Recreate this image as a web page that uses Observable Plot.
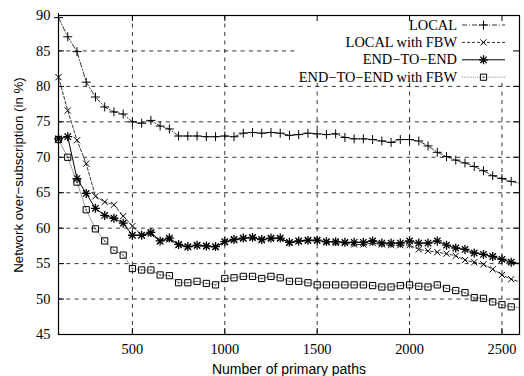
<!DOCTYPE html>
<html><head><meta charset="utf-8">
<script src="https://cdn.jsdelivr.net/npm/d3@7"></script>
<script src="https://cdn.jsdelivr.net/npm/@observablehq/plot@0.6"></script>
<style>body{margin:0;background:#fff}#chart svg{display:block}</style>
</head><body><div id="chart"></div>
<script>
// ---- data ----
const paths = [100,150,200,250,300,350,400,450,500,550,
  600,650,700,750,800,850,900,950,1000,1050,
  1100,1150,1200,1250,1300,1350,1400,1450,1500,1550,
  1600,1650,1700,1750,1800,1850,1900,1950,2000,2050,
  2100,2150,2200,2250,2300,2350,2400,2450,2500,2550,
  2600];
const local = [89.7,87.0,84.9,80.6,78.5,77.1,76.4,76.1,75.0,74.8,
  75.2,74.4,74.0,73.0,73.0,73.0,72.9,72.9,73.0,72.9,
  73.4,73.5,73.4,73.5,73.4,73.1,73.2,73.4,73.3,73.2,
  73.3,72.8,72.6,72.6,72.5,72.3,72.1,72.5,72.5,72.3,
  71.6,70.7,70.1,69.6,69.2,68.7,68.1,67.4,67.0,66.6,
  66.3];
const localFbw = [81.3,76.6,72.4,69.1,64.5,63.7,63.3,61.7,60.3,59.0,
  59.2,58.1,58.4,57.6,57.3,57.5,57.4,57.3,58.0,58.3,
  58.5,58.6,58.3,58.5,58.5,57.9,58.1,58.2,58.2,58.0,
  57.9,57.9,57.7,57.7,57.9,57.7,57.6,57.6,57.6,57.0,
  56.8,56.6,56.4,56.1,55.5,55.2,54.9,54.2,53.4,52.8,
  52.4];
const endToEnd = [72.6,72.9,67.0,64.9,62.8,61.8,61.4,60.7,59.0,59.0,
  59.4,58.2,58.6,57.7,57.4,57.6,57.5,57.4,58.1,58.4,
  58.6,58.7,58.4,58.6,58.6,58.0,58.2,58.3,58.3,58.1,
  58.1,58.0,58.0,58.0,58.2,57.9,57.9,57.9,58.2,57.9,
  57.9,58.2,57.6,57.2,57.0,56.5,56.3,56.0,55.6,55.2,
  55.0];
const endToEndFbw = [72.5,70.0,66.5,62.6,59.9,58.2,56.9,56.2,54.3,54.1,
  54.1,53.4,53.3,52.3,52.3,52.5,52.2,52.0,52.9,53.0,
  53.2,53.2,52.9,53.2,53.0,52.5,52.5,52.3,52.0,52.0,
  52.0,52.0,52.0,52.0,51.9,51.7,51.7,51.9,52.0,51.8,
  51.7,52.0,51.5,51.2,50.9,50.2,50.1,49.6,49.2,48.9,
  48.8];
const seriesNames = ["LOCAL", "LOCAL with FBW", "END\u2212TO\u2212END", "END\u2212TO\u2212END with FBW"];
const xTicks = [500, 1000, 1500, 2000, 2500];
const yTicks = [45, 50, 55, 60, 65, 70, 75, 80, 85, 90];
const xLabel = "Number of primary paths";
const yLabel = "Network over\u2212subscription (in %)";

// ---- styles ----
const W = 524, H = 376;
const mL = 58, mR = 5, mT = 15, mB = 42;
const innerW = W - mL - mR, innerH = H - mT - mB;
const serif = "'Liberation Serif', 'Times New Roman', serif";
const sans = "'Liberation Sans', Arial, sans-serif";
const seriesStyles = [
  {dash: "5,2,1,2", stroke: "#000", width: 0.8, symbols: ["plus"], r: 3, sw: 1},
  {dash: "3,2", stroke: "#000", width: 0.8, symbols: ["times"], r: 2.9, sw: 1},
  {dash: null, stroke: "#000", width: 1, symbols: ["plus", "times"], r: 3, sw: 1.3},
  {dash: "1,1.2", stroke: "#777", width: 0.9, symbols: ["square"], r: 3.5, sw: 1, centerDot: true}
];
const allSeries = [local, localFbw, endToEnd, endToEndFbw];
const rows = [];
allSeries.forEach((vals, i) => vals.forEach((v, j) => rows.push({series: seriesNames[i], x: paths[j], y: v})));

const d3sym = {plus: d3.symbolPlus, times: d3.symbolTimes, square: d3.symbolSquare};

function legendMark(index, scales, values, dims) {
  const g = d3.create("svg:g");
  const right = dims.width - dims.marginRight;
  const top = dims.marginTop;
  g.append("rect").attr("x", right - 222).attr("y", top + 1)
    .attr("width", 221).attr("height", 67).attr("fill", "#fff");
  seriesNames.forEach((name, i) => {
    const st = seriesStyles[i];
    const cy = top + 10 + 17.4 * i;
    g.append("text").attr("x", right - 62).attr("y", cy).attr("dy", "0.32em")
      .attr("text-anchor", "end").attr("font-family", serif).attr("font-size", 14.4)
      .attr("fill", "#000").text(name);
    g.append("line").attr("x1", right - 57).attr("x2", right - 14)
      .attr("y1", cy).attr("y2", cy).attr("stroke", st.stroke)
      .attr("stroke-width", st.width).attr("stroke-dasharray", st.dash);
    st.symbols.forEach(s => {
      g.append("path").attr("transform", `translate(${right - 35.5},${cy})`)
        .attr("d", d3.symbol(d3sym[s], Math.PI * st.r * st.r)())
        .attr("fill", "none").attr("stroke", "#000").attr("stroke-width", st.sw);
    });
    if (st.centerDot) {
      g.append("circle").attr("cx", right - 35.5).attr("cy", cy).attr("r", 0.7).attr("fill", "#333");
    }
  });
  return g.node();
}

const marks = [];
// grid
marks.push(Plot.ruleX(xTicks, {x: d => d, stroke: "#000", strokeWidth: 0.8, strokeDasharray: "4,4.5"}));
marks.push(Plot.ruleY(yTicks.filter(d => d > 45 && d < 90), {y: d => d, stroke: "#000", strokeWidth: 0.8, strokeDasharray: "4,4.3"}));
// legend box and entries
marks.push(legendMark);
// series
seriesNames.forEach((name, i) => {
  const st = seriesStyles[i];
  const data = rows.filter(d => d.series === name);
  marks.push(Plot.line(data, {x: "x", y: "y", stroke: st.stroke, strokeWidth: st.width, strokeDasharray: st.dash, clip: true}));
  const pts = data.filter(d => d.x <= 2550);
  st.symbols.forEach(s => {
    marks.push(Plot.dot(pts, {x: "x", y: "y", symbol: s, r: st.r, stroke: "#000", fill: "none", strokeWidth: st.sw}));
  });
  if (st.centerDot) marks.push(Plot.dot(pts, {x: "x", y: "y", r: 0.7, fill: "#333", stroke: null}));
});
// frame and inward ticks
marks.push(Plot.frame({stroke: "#000", strokeWidth: 1.2}));
marks.push(Plot.tickX(xTicks, {x: d => d, insetTop: innerH - 6, stroke: "#000"}));
marks.push(Plot.tickX(xTicks, {x: d => d, insetBottom: innerH - 6, stroke: "#000"}));
marks.push(Plot.tickY(yTicks, {y: d => d, insetRight: innerW - 6, stroke: "#000"}));
marks.push(Plot.tickY(yTicks, {y: d => d, insetLeft: innerW - 6, stroke: "#000"}));
// axes labels
marks.push(Plot.axisX(xTicks, {tickSize: 0, tickPadding: 9, tickFormat: d => `${d}`, fontSize: 14.4, fontFamily: serif, label: null, fill: "#000"}));
marks.push(Plot.axisY(yTicks, {tickSize: 0, tickPadding: 8, tickFormat: d => `${d}`, fontSize: 14.4, fontFamily: serif, label: null, fill: "#000"}));
marks.push(Plot.text([xLabel], {text: d => d, frameAnchor: "bottom", textAnchor: "middle", dy: 34.8, lineAnchor: "middle", fontSize: 14, fontFamily: sans, fill: "#000"}));
marks.push(Plot.text([yLabel], {text: d => d, frameAnchor: "left", textAnchor: "middle", dx: -40, rotate: -90, lineAnchor: "middle", fontSize: 13.3, fontFamily: sans, fill: "#000"}));

const chart = Plot.plot({
  width: W, height: H,
  marginLeft: mL, marginRight: mR, marginTop: mT, marginBottom: mB,
  x: {domain: [100, 2595]},
  y: {domain: [45, 90]},
  axis: null,
  style: {background: "#fff", color: "#000", overflow: "visible"},
  marks
});
document.getElementById("chart").appendChild(chart);
</script>
</body></html>
